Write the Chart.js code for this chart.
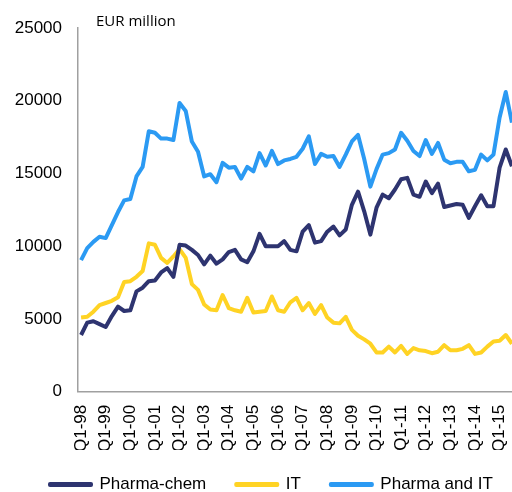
<!DOCTYPE html>
<html>
<head>
<meta charset="utf-8">
<script src="https://cdn.jsdelivr.net/npm/chart.js@4.4.1/dist/chart.umd.min.js"></script>
<style>
html, body { margin: 0; padding: 0; overflow: hidden; background: #fff; }
#wrap { position: relative; width: 515px; height: 507px; }
</style>
</head>
<body>
<div id="wrap"><canvas id="chart" width="515" height="507"></canvas></div>
<script>
const years = ["98", "99", "00", "01", "02", "03", "04", "05", "06", "07", "08", "09", "10", "11", "12", "13", "14", "15"]

// EUR million, quarterly Q1-98 .. Q3-15
const pharmaChem = [
	3900, 4750, 4850, 4650, 4450, 5200, 5850, 5550, 5600, 6900,
	7150, 7600, 7650, 8200, 8500, 7900, 10100, 10050, 9750, 9400,
	8750, 9350, 8800, 9100, 9600, 9750, 9100, 8900, 9650, 10850,
	10000, 10000, 10000, 10350, 9750, 9650, 11000, 11450, 10250, 10350,
	11000, 11350, 10750, 11150, 12850, 13750, 12400, 10800, 12650, 13550,
	13300, 13900, 14600, 14700, 13550, 13400, 14450, 13650, 14300, 12700,
	12800, 12900, 12850, 11950, 12750, 13500, 12750, 12750, 15400, 16650,
	15500
]
const it = [
	5100, 5150, 5500, 5950, 6100, 6250, 6500, 7550, 7600, 7900,
	8300, 10200, 10100, 9200, 8850, 9300, 9800, 9200, 7400, 7000,
	6000, 5650, 5600, 6650, 5750, 5600, 5500, 6450, 5450, 5500,
	5550, 6550, 5600, 5500, 6150, 6450, 5600, 6100, 5350, 5950,
	5100, 4750, 4700, 5150, 4250, 3850, 3600, 3300, 2700, 2700,
	3100, 2700, 3150, 2600, 3000, 2850, 2800, 2650, 2750, 3200,
	2850, 2850, 2950, 3200, 2600, 2700, 3100, 3450, 3500, 3900,
	3300
]
const pharmaAndIt = [
	9050, 9870, 10300, 10650, 10560, 11450, 12350, 13150, 13250, 14800,
	15450, 17900, 17800, 17400, 17400, 17300, 19850, 19300, 17200, 16500,
	14800, 14950, 14400, 15730, 15400, 15450, 14650, 15450, 15150, 16400,
	15550, 16550, 15650, 15900, 16000, 16150, 16700, 17550, 15650, 16350,
	16150, 16200, 15450, 16300, 17200, 17650, 16000, 14100, 15300, 16300,
	16400, 16650, 17800, 17250, 16550, 16200, 17300, 16350, 17100, 15950,
	15700, 15800, 15800, 15150, 15250, 16300, 15900, 16300, 18850, 20600,
	18500
]

const quarters = []
years.forEach((yy) => {
	for (let q = 1; q <= 4; q++) quarters.push(`Q${q}-${yy}`)
})
const labels = quarters.slice(0, pharmaChem.length)

const fontName = "'Liberation Sans', Arial, sans-serif"

const unitLabel = {
	id: "unitLabel",
	afterLayout(chart) {
		// nudge the legend row like the original
		chart.legend.left += 20
		chart.legend.right += 20
		chart.legend.top -= 4
		chart.legend.bottom -= 4
	},
	afterDraw(chart) {
		const ctx = chart.ctx
		ctx.save()
		ctx.font = "15px 'Open Sans', sans-serif"
		ctx.fillStyle = "#000"
		ctx.textBaseline = "middle"
		ctx.textAlign = "left"
		ctx.fillText("EUR million", 96, 22)
		ctx.restore()
	},
}

function line(label, data, color) {
	return {
		label,
		data,
		borderColor: color,
		backgroundColor: color,
		borderWidth: 4,
		pointRadius: 0,
		tension: 0,
		borderJoinStyle: "round",
		borderCapStyle: "butt",
	}
}

new Chart(document.getElementById("chart"), {
	type: "line",
	data: {
		labels,
		datasets: [
			line("Pharma-chem", pharmaChem, "#2e3470"),
			line("IT", it, "#ffd324"),
			line("Pharma and IT", pharmaAndIt, "#2b9af3"),
		],
	},
	options: {
		responsive: false,
		animation: false,
		devicePixelRatio: 1,
		layout: { padding: { left: 0, top: 28, right: 0, bottom: 0 } },
		plugins: {
			legend: {
				position: "bottom",
				align: "start",
				labels: {
					boxWidth: 41,
					boxHeight: 1,
					padding: 30,
					color: "#000",
					font: { family: fontName, size: 17 },
				},
			},
			tooltip: { enabled: false },
		},
		scales: {
			x: {
				type: "category",
				offset: true,
				grid: { display: false, drawTicks: false },
				border: { display: true, color: "#a0a0a0", width: 1.5 },
				ticks: {
					autoSkip: false,
					minRotation: 90,
					maxRotation: 90,
					padding: 13,
					color: "#000",
					font: { family: fontName, size: 17 },
					callback(value, index) {
						return index % 4 === 0 ? labels[index] : ""
					},
				},
				afterFit(scale) {
					scale.paddingRight = 0
					scale.paddingLeft = 0
					scale.height = scale.height - 15
				},
			},
			y: {
				min: 0,
				max: 25000,
				grid: { display: false, drawTicks: false },
				border: { display: true, color: "#a0a0a0", width: 1.5 },
				ticks: {
					stepSize: 5000,
					padding: 16,
					color: "#000",
					font: { family: fontName, size: 17 },
					callback(value) {
						return String(value)
					},
				},
				afterFit(scale) {
					scale.width = 78
				},
			},
		},
	},
	plugins: [unitLabel],
})
</script>
</body>
</html>
